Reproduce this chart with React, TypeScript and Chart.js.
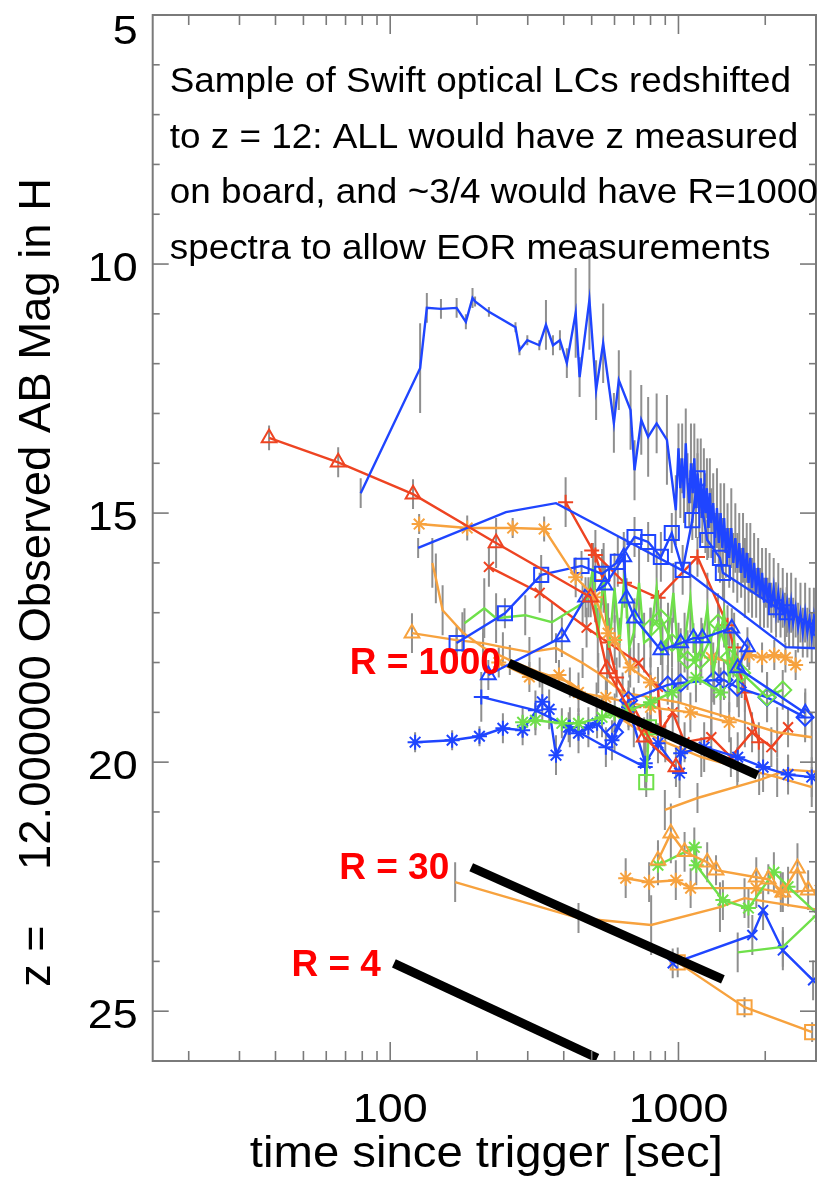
import React, { useEffect, useRef } from 'react';
import { Chart, registerables } from 'chart.js';
Chart.register(...registerables);

type P = number[]; // [time (s), magnitude, error (optional)]

// ---------------- axis ticks & texts ----------------
const xTickValues = [20, 30, 40, 50, 60, 70, 80, 90, 100, 200, 300, 400, 500, 600, 700, 800, 900, 1000, 2000, 3000];
const xMajorTicks = [100, 1000];
const xTickLabels = ['100', '1000'];
const yMajorTicks = [5, 10, 15, 20, 25];
const yTickLabels = ['5', '10', '15', '20', '25'];
const xTitle = 'time since trigger [sec]';
const yTitle = '12.000000 Observed AB Mag in H';
const yTitlePrefix = 'z =';
const noteLines = [
  'Sample of Swift optical LCs redshifted',
  'to z = 12: ALL would have z measured',
  'on board, and ~3/4 would have R=1000',
  'spectra to allow EOR measurements',
];
const rLabels = ['R = 1000', 'R = 30', 'R = 4'];

// ---------------- light curves ----------------
const blueMain: P[] = [
  [79, 14.6, 0.3], [127, 12.09, 0.9], [134, 10.88, 0.3], [150, 10.9, 0.2], [170, 10.88, 0.2], [183, 11.16, 0.15],
  [193, 10.68, 0.2], [197, 10.75, 0.1], [220, 10.96, 0.1], [272, 11.27, 0.1], [281, 11.73, 0.1], [299, 11.53, 0.1],
  [329, 11.63, 0.1], [347, 11.22, 0.5], [367, 11.63, 0.2], [388, 11.53, 0.2], [410, 11.99, 0.3], [440, 10.98, 0.9],
  [454, 12.27, 0.4], [491, 10.72, 1.0], [518, 12.53, 0.6], [548, 11.59, 0.8], [597, 13.19, 0.6], [621, 12.33, 0.6],
  [682, 12.93, 0.8], [704, 14.14, 0.6], [743, 13.13, 0.7], [785, 13.47, 0.8], [840, 13.2, 0.6], [912, 13.53, 0.9],
  [979, 14.94, 0.7], [1000, 13.7, 0.5], [1015, 14.5, 0.6], [1030, 13.9, 0.7], [1045, 14.7, 0.5], [1060, 13.6, 0.7],
  [1075, 14.4, 0.6], [1090, 14.8, 0.5], [1105, 14.0, 0.8], [1120, 14.6, 0.6], [1135, 13.9, 0.7], [1150, 14.9, 0.6],
  [1165, 14.2, 0.7], [1180, 15.0, 0.5], [1195, 14.3, 0.8], [1210, 15.1, 0.5], [1225, 14.4, 0.7], [1240, 15.0, 0.8],
  [1255, 14.5, 0.6], [1270, 15.3, 0.6], [1285, 14.6, 0.7], [1300, 15.2, 0.7], [1320, 14.8, 0.6], [1340, 15.5, 0.5],
  [1360, 14.9, 0.8], [1380, 15.6, 0.6], [1400, 15.0, 0.6], [1420, 15.7, 0.6], [1440, 15.1, 0.7], [1460, 15.8, 0.5],
  [1480, 15.3, 0.5], [1500, 15.9, 0.6], [1525, 15.3, 0.8], [1550, 16.0, 0.6], [1575, 15.5, 0.7], [1600, 16.1, 0.7],
  [1625, 15.6, 0.6], [1650, 16.2, 0.5], [1675, 15.7, 0.7], [1700, 16.3, 0.8], [1725, 15.8, 0.6], [1750, 16.4, 0.6],
  [1775, 15.9, 0.7], [1800, 16.5, 0.6], [1830, 16.0, 0.6], [1860, 16.6, 0.5], [1890, 16.1, 0.6], [1920, 16.7, 0.6],
  [1950, 16.2, 0.5], [1980, 16.8, 0.5], [2010, 16.3, 0.6], [2040, 16.8, 0.5], [2070, 16.4, 0.6], [2100, 16.9, 0.5],
  [2140, 16.5, 0.6], [2180, 17.0, 0.5], [2220, 16.6, 0.6], [2260, 17.0, 0.5], [2300, 16.7, 0.6], [2340, 17.1, 0.5],
  [2380, 16.8, 0.6], [2420, 17.2, 0.5], [2460, 16.8, 0.6], [2500, 17.2, 0.5], [2550, 16.9, 0.6], [2600, 17.3, 0.5],
  [2650, 17.0, 0.6], [2700, 17.4, 0.5], [2750, 17.0, 0.6], [2800, 17.4, 0.5], [2850, 17.1, 0.6], [2900, 17.5, 0.5],
  [2950, 17.1, 0.6], [3000, 17.5, 0.5], [3060, 17.2, 0.5],
];
const redTri: P[] = [[38, 13.49, 0.25], [66, 13.98, 0.3], [120, 14.62, 0.3], [233, 15.6, 0.5], [496, 16.69, 0.4], [565, 18.13, 0.5], [760, 19.5, 0.4], [980, 20.1, 0.4]];
const blueLine: P[] = [[125, 15.7, 0.2], [252, 14.98], [376, 14.8], [704, 15.64], [1102, 16.24], [2356, 17.69], [3200, 17.72]];
const orangeStar1: P[] = [[126, 15.22, 0.2], [185, 15.3, 0.25], [266, 15.3, 0.2], [342, 15.32, 0.25], [440, 16.29, 0.4], [514, 16.69, 0.5], [570, 17.41, 0.6], [601, 17.55, 0.5], [680, 18.1, 0.4], [800, 18.4, 0.5]];
const blueSq: P[] = [[170, 17.61, 0.3], [250, 17.01, 0.3], [334, 16.24, 0.4], [461, 16.06, 0.3], [543, 16.22, 0.5], [616, 15.98, 0.5], [704, 15.48, 0.4], [785, 15.58, 0.4], [869, 15.88, 0.5], [948, 15.4, 0.4], [1034, 16.14, 0.5], [1117, 15.14, 0.4], [1164, 14.3, 0.5], [1258, 15.54, 0.4], [1393, 15.9, 0.5], [1426, 16.2, 0.5], [2178, 16.89, 0.5], [2373, 16.99, 0.5], [3100, 17.3]];
const blueTri: P[] = [[219, 18.25, 0.3], [394, 17.49, 0.4], [476, 16.69, 0.4], [556, 16.45, 0.4], [646, 15.88, 0.5], [661, 16.71, 0.4], [704, 17.11, 0.4], [869, 17.75, 0.3], [1018, 17.61, 0.3], [1127, 17.51, 0.3], [1210, 17.51, 0.3], [1531, 17.31, 0.4], [1735, 17.69, 0.4], [1605, 18.11, 0.5], [2754, 19.02, 0.5]];
const greenLeft: P[] = [[181, 17.21, 0.3], [212, 16.91, 0.6], [233, 17.11, 0.5], [294, 17.05, 0.4], [364, 17.19, 0.4], [465, 16.81, 0.4], [487, 16.69, 0.4], [505, 16.1, 0.5]];
const greenNoisy: P[] = [
  [505, 16.1, 0.5], [525, 17.5, 0.6], [550, 16.3, 0.7], [575, 17.7, 0.6], [600, 16.5, 0.7], [625, 17.6, 0.5], [650, 16.2, 0.7],
  [675, 17.7, 0.6], [700, 17.4, 0.6], [730, 16.4, 0.7], [760, 17.6, 0.6], [800, 17.5, 0.6], [840, 16.5, 0.7], [880, 17.8, 0.6],
  [920, 17.5, 0.7], [960, 16.6, 0.6], [1000, 17.9, 0.7], [1050, 17.6, 0.6], [1100, 16.7, 0.7], [1150, 18.0, 0.6], [1200, 17.7, 0.6],
  [1260, 16.9, 0.7], [1320, 18.2, 0.6], [1380, 17.6, 0.7], [1440, 17.0, 0.7], [1500, 18.4, 0.6], [1560, 17.6, 0.6], [1620, 18.6, 0.5],
];
const greenDia: P[] = [[800, 17.3, 0.4], [869, 17.11, 0.5], [950, 17.6, 0.5], [1075, 17.95, 0.6], [1191, 17.95, 0.5], [1372, 17.21, 0.6], [1500, 17.9, 0.5], [1656, 18.21, 0.5], [2029, 18.69, 0.5], [2300, 18.55, 0.4]];
const greenStar: P[] = [[288, 19.2, 0.3], [319, 19.16, 0.3], [394, 19.22, 0.3], [450, 19.22, 0.3], [543, 19.1, 0.4], [601, 19.02, 0.4], [671, 18.96, 0.4], [800, 18.8, 0.5], [950, 18.6, 0.5], [1150, 18.3, 0.5], [1400, 18.6, 0.5]];
const greenSq: P[] = [[790, 19.3], [773, 20.4, 0.3]];
const blueStar: P[] = [[122, 19.6, 0.2], [164, 19.56, 0.2], [204, 19.48, 0.2], [246, 19.32, 0.3], [288, 19.36, 0.3], [337, 18.79, 0.4], [356, 18.94, 0.4], [376, 19.86, 0.4], [416, 19.3, 0.3], [450, 19.42, 0.4], [487, 19.3, 0.4], [522, 19.22, 0.3], [588, 19.56, 0.4], [671, 18.9, 0.4], [767, 20.02, 0.5], [849, 19.62, 0.4], [1009, 20.22, 0.5], [1018, 19.82, 0.4], [1228, 19.7, 0.5], [1605, 19.9, 0.5], [1966, 20.1, 0.5], [2400, 20.25, 0.4], [2900, 20.3, 0.4], [3200, 20.3]];
const bluePlus: P[] = [[207, 18.69, 0.5], [319, 18.96, 0.4], [420, 19.3, 0.4], [560, 19.7, 0.4], [767, 20.1, 0.4]];
const blueDia: P[] = [[600, 19.4, 0.4], [671, 18.76, 0.4], [918, 18.45, 0.4], [1018, 18.41, 0.4], [1330, 18.35, 0.5], [1438, 18.35, 0.4], [1600, 18.5, 0.4], [2030, 18.7, 0.5], [2750, 19.1, 0.5]];
const orangeTri: P[] = [[119, 17.41, 0.4], [170, 17.55, 0.3], [210, 17.61, 0.3], [246, 17.69, 0.3], [304, 17.79, 0.3], [376, 17.71, 0.3], [465, 18.01, 0.3], [527, 18.21, 0.4], [640, 18.6, 0.4], [800, 18.7, 0.5], [1000, 18.8, 0.5], [1300, 19.0, 0.5], [1700, 19.2, 0.5], [2200, 19.4, 0.5], [2900, 19.5, 0.5]];
const orangeCurve: P[] = [[140, 16.0, 0.5], [144, 16.31, 0.5], [152, 16.95, 0.5], [178, 17.39, 0.4], [210, 17.7, 0.3], [260, 17.95, 0.3], [330, 18.2, 0.3], [420, 18.4, 0.3], [520, 18.8, 0.4], [700, 19.3, 0.4], [900, 19.6, 0.4], [1200, 19.9, 0.4], [1600, 20.1, 0.4], [2200, 20.3, 0.4], [2900, 20.5, 0.4]];
const orangeStar2: P[] = [[238, 18.0, 0.3], [304, 18.29, 0.3], [385, 18.25, 0.3], [450, 18.6, 0.4], [560, 18.7, 0.4], [800, 18.9, 0.4], [1100, 19.0, 0.4], [1500, 19.2, 0.4]];
const orangeStarR: P[] = [[1300, 17.9, 0.4], [1550, 18.0, 0.3], [1760, 17.85, 0.3], [1950, 17.9, 0.3], [2150, 17.85, 0.3], [2350, 17.9, 0.3], [2550, 18.05, 0.3]];
const orangeLow: P[] = [[897, 20.96, 0.4], [1164, 20.72, 0.3], [1905, 20.36, 0.3], [2400, 20.15, 0.3], [3100, 20.2]];
const redX: P[] = [[220, 16.08, 0.4], [330, 16.6, 0.4], [480, 17.3, 0.4], [727, 18.01, 0.4], [849, 18.49, 0.4], [869, 19.36, 0.4], [955, 19.0, 0.4], [1050, 19.6, 0.4], [1300, 19.5, 0.4], [1520, 19.9, 0.4], [1800, 19.4, 0.4], [2100, 19.7, 0.4], [2400, 19.3, 0.4]];
const redPlus: P[] = [[406, 14.78, 0.5], [515, 15.84, 0.5], [548, 16.35, 0.5], [570, 17.6, 0.5], [610, 18.3, 0.4], [700, 18.9, 0.4], [780, 19.4, 0.4]];
const redPlus2: P[] = [[500, 15.75], [650, 16.4], [850, 16.7], [1164, 15.88, 0.4], [1480, 17.25, 0.4], [1560, 17.7, 0.4], [1700, 18.6, 0.4], [1900, 19.6, 0.4]];
const orangeTriLow: P[] = [[849, 21.97, 0.4], [941, 21.43, 0.6], [1050, 21.8, 0.4], [1258, 22.01, 0.4], [1350, 22.17, 0.3], [1862, 22.31, 0.4], [2050, 22.35, 0.3], [2302, 22.61, 0.4], [2587, 22.13, 0.5], [2818, 22.57, 0.4]];
const greenStarLow: P[] = [[849, 22.07, 0.4], [1135, 21.71, 0.4], [1153, 22.07, 0.4], [1426, 22.77, 0.4], [1749, 22.93, 0.4], [2143, 22.21, 0.4], [2400, 22.5, 0.4], [3100, 23.1]];
const greenLow2: P[] = [[1605, 23.82, 0.4], [2302, 23.71, 0.4], [3100, 23.0]];
const orangeStarLow: P[] = [[656, 22.33, 0.4], [791, 22.41, 0.4], [979, 22.37, 0.4], [1102, 22.53, 0.4], [1862, 22.53, 0.4], [2265, 22.61, 0.4], [3100, 22.57]];
const orangeR30: P[] = [[168, 22.41, 0.4], [450, 23.13, 0.3], [804, 23.27, 0.6], [1393, 22.91, 0.5], [1695, 22.73, 0.4], [3100, 22.97]];
const blueXLow: P[] = [[955, 24.04, 0.3], [1804, 23.47, 0.4], [1966, 22.97, 0.4], [2302, 23.78, 0.4], [2931, 24.38, 0.4]];
const orangeSqLow: P[] = [[994, 24.02, 0.3], [1695, 24.92, 0.2], [2909, 25.42, 0.2]];

// resolution lines (black)
const r1000Line: P[] = [[258, 18.01], [1880, 20.26]];
const r30Line: P[] = [[191, 22.11], [1426, 24.36]];
const r4Line: P[] = [[103, 24.04], [523, 25.94]];

const BLUE = '#1f45ff';
const RED = '#ee4422';
const ORANGE = '#f7a23e';
const GREEN = '#6fe04a';
const GRAY = '#8f8f8f';
const AXIS = '#7a7a7a';
const FONT = "'Liberation Sans', Arial, Helvetica, sans-serif";

const markerRadius: Record<string, number> = { rect: 10, triangle: 8.5, star: 7.5, cross: 7.5, crossRot: 7, rectRot: 8.5 };

type S = { d: P[]; c: string; m: string | false; firstOnly?: boolean };
const series: S[] = [
  { d: blueMain, c: BLUE, m: false },
  { d: redTri, c: RED, m: 'triangle' },
  { d: blueLine, c: BLUE, m: false },
  { d: orangeStar1, c: ORANGE, m: 'star' },
  { d: blueSq, c: BLUE, m: 'rect' },
  { d: blueTri, c: BLUE, m: 'triangle' },
  { d: greenLeft, c: GREEN, m: false },
  { d: greenNoisy, c: GREEN, m: false },
  { d: greenDia, c: GREEN, m: 'rectRot' },
  { d: greenStar, c: GREEN, m: 'star' },
  { d: greenSq, c: GREEN, m: 'rect' },
  { d: blueStar, c: BLUE, m: 'star' },
  { d: bluePlus, c: BLUE, m: 'cross' },
  { d: blueDia, c: BLUE, m: 'rectRot' },
  { d: orangeTri, c: ORANGE, m: 'triangle', firstOnly: true },
  { d: orangeCurve, c: ORANGE, m: false },
  { d: orangeStar2, c: ORANGE, m: 'star' },
  { d: orangeStarR, c: ORANGE, m: 'star' },
  { d: orangeLow, c: ORANGE, m: false },
  { d: redX, c: RED, m: 'crossRot' },
  { d: redPlus, c: RED, m: 'cross' },
  { d: redPlus2, c: RED, m: 'cross' },
  { d: orangeTriLow, c: ORANGE, m: 'triangle' },
  { d: greenStarLow, c: GREEN, m: 'star' },
  { d: greenLow2, c: GREEN, m: false },
  { d: orangeStarLow, c: ORANGE, m: 'star' },
  { d: orangeR30, c: ORANGE, m: false },
  { d: blueXLow, c: BLUE, m: 'crossRot' },
  { d: orangeSqLow, c: ORANGE, m: 'rect' },
];

function drawText(ctx: CanvasRenderingContext2D, s: string, x: number, y: number, font: string, align: CanvasTextAlign, opts: { sx?: number; fitW?: number; rot?: boolean; color?: string } = {}) {
  ctx.save();
  ctx.font = font;
  ctx.fillStyle = opts.color || '#000';
  ctx.textAlign = align;
  ctx.textBaseline = 'alphabetic';
  ctx.translate(x, y);
  if (opts.rot) ctx.rotate(-Math.PI / 2);
  let sx = opts.sx || 1;
  if (opts.fitW) sx = opts.fitW / ctx.measureText(s).width;
  ctx.scale(sx, 1);
  ctx.fillText(s, 0, 0);
  ctx.restore();
}

const errorBarPlugin = {
  id: 'errbars',
  beforeDatasetsDraw(chart: any) {
    const { ctx, chartArea: a, scales } = chart;
    ctx.save();
    ctx.beginPath();
    ctx.rect(a.left, a.top, a.right - a.left, a.bottom - a.top);
    ctx.clip();
    ctx.strokeStyle = GRAY;
    ctx.lineWidth = 2;
    series.forEach((s) => {
      s.d.forEach((p) => {
        if (p[2] === undefined) return;
        const px = scales.x.getPixelForValue(p[0]);
        const y1 = scales.y.getPixelForValue(p[1] - p[2]);
        const y2 = scales.y.getPixelForValue(p[1] + p[2]);
        ctx.beginPath();
        ctx.moveTo(px, y1);
        ctx.lineTo(px, y2);
        ctx.stroke();
      });
    });
    ctx.restore();
  },
};

const framePlugin = {
  id: 'frame',
  afterDraw(chart: any) {
    const { ctx, chartArea: a, scales } = chart;
    const xs = scales.x, ys = scales.y;
    ctx.save();
    ctx.strokeStyle = AXIS;
    ctx.lineWidth = 2;
    ctx.strokeRect(a.left, a.top, a.right - a.left, a.bottom - a.top);
    ctx.lineWidth = 1.6;
    const seg = (x1: number, y1: number, x2: number, y2: number) => {
      ctx.beginPath(); ctx.moveTo(x1, y1); ctx.lineTo(x2, y2); ctx.stroke();
    };
    xTickValues.forEach((v) => {
      const px = xs.getPixelForValue(v);
      const len = xMajorTicks.includes(v) ? 19 : 10;
      seg(px, a.bottom, px, a.bottom - len);
      seg(px, a.top, px, a.top + len);
    });
    for (let m = Math.ceil(ys.min); m <= ys.max; m++) {
      const py = ys.getPixelForValue(m);
      const len = yMajorTicks.includes(m) ? 16 : 7;
      seg(a.left, py, a.left + len, py);
      seg(a.right, py, a.right - len, py);
    }
    ctx.restore();

    const tickFont = `40px ${FONT}`;
    xMajorTicks.forEach((v, i) => {
      drawText(ctx, xTickLabels[i], xs.getPixelForValue(v), a.bottom + 61, tickFont, 'center', { sx: 1.12 });
    });
    yMajorTicks.forEach((v, i) => {
      const py = ys.getPixelForValue(v);
      drawText(ctx, yTickLabels[i], a.left - 15, Math.max(py + 17, a.top + 29), tickFont, 'right', { sx: 1.12 });
    });
    drawText(ctx, xTitle, (a.left + a.right) / 2 + 2, a.bottom + 106, `44px ${FONT}`, 'center', { fitW: 473 });
    drawText(ctx, yTitle, 50, 524, `45px ${FONT}`, 'center', { rot: true, fitW: 692 });
    drawText(ctx, yTitlePrefix, 50, 956, `45px ${FONT}`, 'center', { rot: true });

    noteLines.forEach((l, i) => {
      drawText(ctx, l, a.left + 17, a.top + 77 + i * 55.5, `35px ${FONT}`, 'left', { sx: 1.054 });
    });

    const lines = [r1000Line, r30Line, r4Line];
    const offs = [[-8, 11], [-22, 12], [-13, 13]];
    lines.forEach((ln, i) => {
      const px = xs.getPixelForValue(ln[0][0]);
      const py = ys.getPixelForValue(ln[0][1]);
      drawText(ctx, rLabels[i], px + offs[i][0], py + offs[i][1], `bold 37px ${FONT}`, 'right', { color: '#ff0000' });
    });
  },
};

export default function App() {
  const ref = useRef<HTMLCanvasElement | null>(null);
  useEffect(() => {
    if (!ref.current) return;
    const datasets: any[] = [];
    [r1000Line, r30Line, r4Line].forEach((ln) => {
      datasets.push({
        data: ln.map((p) => ({ x: p[0], y: p[1] })),
        borderColor: '#000', borderWidth: 9, pointRadius: 0, showLine: true, borderCapStyle: 'butt',
      });
    });
    series.forEach((s) => {
      const r = s.m ? markerRadius[s.m] : 0;
      datasets.push({
        data: s.d.map((p) => ({ x: p[0], y: p[1] })),
        borderColor: s.c,
        borderWidth: 2.4,
        showLine: true,
        pointStyle: s.m || 'circle',
        pointRadius: s.m ? (s.firstOnly ? s.d.map((_, i) => (i === 0 ? r : 0)) : r) : 0,
        pointBorderColor: s.c,
        pointBackgroundColor: 'rgba(0,0,0,0)',
        pointBorderWidth: 2,
        tension: 0,
      });
    });
    const chart = new Chart(ref.current, {
      type: 'scatter',
      data: { datasets },
      options: {
        animation: false,
        responsive: false,
        devicePixelRatio: 1,
        layout: { padding: { left: 152.7, top: 15, right: 0, bottom: 121 } },
        plugins: { legend: { display: false }, tooltip: { enabled: false } },
        scales: {
          x: { type: 'logarithmic', min: 15, max: 3000, display: false },
          y: { type: 'linear', min: 5, max: 26, reverse: true, display: false },
        },
      },
      plugins: [errorBarPlugin, framePlugin],
    });
    return () => chart.destroy();
  }, []);
  return (
    <div style={{ position: 'absolute', left: 0, top: 0, width: 828, height: 1182, background: '#fff' }}>
      <canvas ref={ref} width={828} height={1182} style={{ display: 'block' }} />
    </div>
  );
}
